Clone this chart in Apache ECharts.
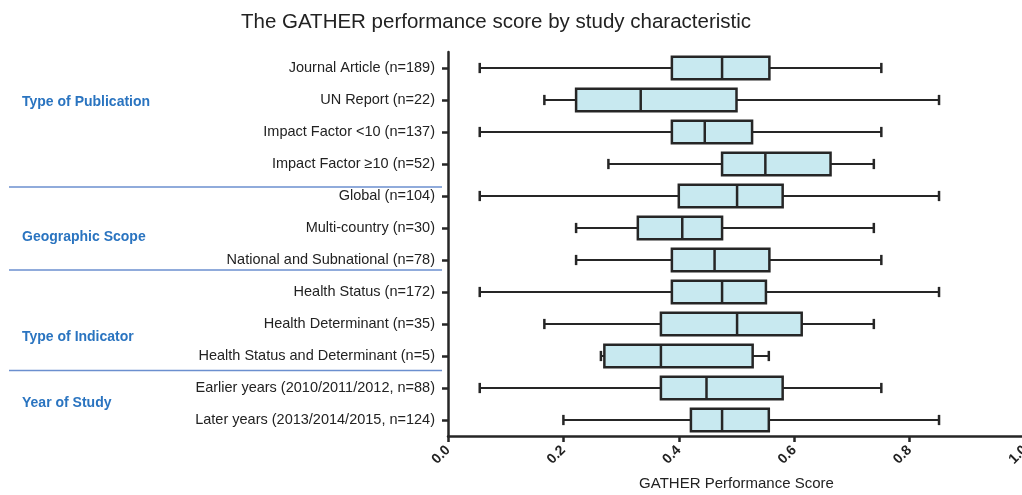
<!DOCTYPE html>
<html>
<head>
<meta charset="utf-8">
<script src="https://cdn.jsdelivr.net/npm/echarts@6/dist/echarts.min.js"></script>
<style>
  html, body { margin: 0; padding: 0; background: #fff; }
  #chart { width: 1022px; height: 495px; }
</style>
</head>
<body>
<div id="chart"></div>
<script>
// categories, top to bottom
const categories = [
  'Journal Article (n=189)',
  'UN Report (n=22)',
  'Impact Factor <10 (n=137)',
  'Impact Factor \u226510 (n=52)',
  'Global (n=104)',
  'Multi-country (n=30)',
  'National and Subnational (n=78)',
  'Health Status (n=172)',
  'Health Determinant (n=35)',
  'Health Status and Determinant (n=5)',
  'Earlier years (2010/2011/2012, n=88)',
  'Later years (2013/2014/2015, n=124)'
];

// min, q1, median, q3, max
const lows    = [0.055, 0.167, 0.055, 0.278, 0.055, 0.222, 0.222, 0.055, 0.167, 0.265, 0.055, 0.200];
const q1s     = [0.388, 0.222, 0.388, 0.475, 0.400, 0.329, 0.388, 0.388, 0.369, 0.271, 0.369, 0.421];
const medians = [0.475, 0.334, 0.445, 0.550, 0.501, 0.406, 0.462, 0.475, 0.501, 0.369, 0.448, 0.475];
const q3s     = [0.557, 0.500, 0.527, 0.663, 0.580, 0.475, 0.557, 0.551, 0.613, 0.528, 0.580, 0.556];
const highs   = [0.751, 0.851, 0.751, 0.738, 0.851, 0.738, 0.751, 0.851, 0.738, 0.556, 0.751, 0.851];

const groups = ['Type of Publication', 'Geographic Scope', 'Type of Indicator', 'Year of Study'];
const xTicks = ['0.0', '0.2', '0.4', '0.6', '0.8', '1.0'];

const ink = '#262626';
const fill = '#c8e9f0';
const blue = '#2a74c0';

const data = categories.map((c, i) => [i, lows[i], q1s[i], medians[i], q3s[i], highs[i]]);

function renderBox(params, api) {
  const y = api.value(0);
  const lo = api.coord([api.value(1), y]);
  const a = api.coord([api.value(2), y]);
  const m = api.coord([api.value(3), y]);
  const b = api.coord([api.value(4), y]);
  const hi = api.coord([api.value(5), y]);
  const band = api.size([0, 1])[1];
  const bh = band * 0.7;
  const ch = band * 0.32;
  const cy = lo[1];
  const lineStyle = { stroke: ink, lineWidth: 2 };
  return {
    type: 'group',
    children: [
      { type: 'line', shape: { x1: lo[0], y1: cy, x2: a[0], y2: cy }, style: lineStyle },
      { type: 'line', shape: { x1: b[0], y1: cy, x2: hi[0], y2: cy }, style: lineStyle },
      { type: 'line', shape: { x1: lo[0], y1: cy - ch / 2, x2: lo[0], y2: cy + ch / 2 }, style: { stroke: ink, lineWidth: 2.5 } },
      { type: 'line', shape: { x1: hi[0], y1: cy - ch / 2, x2: hi[0], y2: cy + ch / 2 }, style: { stroke: ink, lineWidth: 2.5 } },
      { type: 'rect', shape: { x: a[0], y: cy - bh / 2, width: b[0] - a[0], height: bh }, style: { fill: fill, stroke: ink, lineWidth: 2.5 } },
      { type: 'line', shape: { x1: m[0], y1: cy - bh / 2, x2: m[0], y2: cy + bh / 2 }, style: { stroke: ink, lineWidth: 2.5 } }
    ]
  };
}

const font = '"Liberation Sans", Arial, Helvetica, sans-serif';
const sepLine = y => ({
  type: 'line', shape: { x1: 9, y1: y, x2: 442, y2: y },
  style: { stroke: '#6b8fcf', lineWidth: 1.5 }
});
const groupText = (i, y) => ({
  type: 'text', left: 22, top: y - 6,
  style: { text: groups[i], fill: blue, font: 'bold 14px ' + font }
});

const chart = echarts.init(document.getElementById('chart'));
chart.setOption({
  animation: false,
  textStyle: { fontFamily: font },
  title: {
    text: 'The GATHER performance score by study characteristic',
    left: 236, top: 7,
    textStyle: { fontSize: 20.5, fontWeight: 'normal', color: '#222', fontFamily: font }
  },
  grid: { left: 448, right: -3, top: 52, bottom: 59, containLabel: false, outerBoundsMode: 'none' },
  xAxis: {
    type: 'value', min: 0, max: 1, interval: 0.2,
    name: 'GATHER Performance Score',
    nameLocation: 'middle', nameGap: 40,
    nameTextStyle: { fontSize: 15, color: '#222' },
    axisLine: { show: true, lineStyle: { color: ink, width: 2.5 } },
    axisTick: { show: true, length: 6, lineStyle: { color: ink, width: 2.5 } },
    axisLabel: {
      rotate: 45, fontSize: 14, fontWeight: 'bold', color: '#222', margin: 12,
      formatter: v => xTicks[Math.round(v / 0.2)]
    },
    splitLine: { show: false }
  },
  yAxis: {
    type: 'category', data: categories, inverse: true,
    axisLine: { show: true, lineStyle: { color: ink, width: 2.5 } },
    axisTick: { show: true, alignWithLabel: true, length: 6, lineStyle: { color: ink, width: 2.5 } },
    axisLabel: { fontSize: 14.5, color: '#222', margin: 13 },
    splitLine: { show: false }
  },
  graphic: [
    sepLine(187), sepLine(270), sepLine(370.5),
    groupText(0, 101), groupText(1, 236), groupText(2, 336), groupText(3, 402)
  ],
  series: [{
    type: 'custom',
    renderItem: renderBox,
    encode: { x: [1, 2, 3, 4, 5], y: 0 },
    data: data,
    clip: false
  }]
});
</script>
</body>
</html>
